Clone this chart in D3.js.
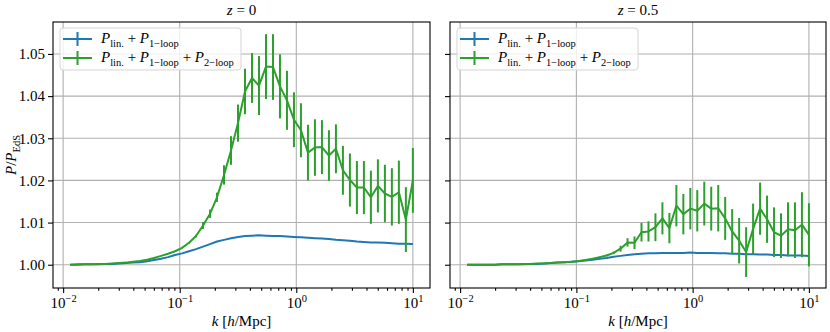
<!DOCTYPE html>
<html>
<head>
<meta charset="utf-8">
<script src="https://cdn.jsdelivr.net/npm/d3@7"></script>
<style>
  body { margin: 0; background: #fff; }
  svg { display: block; font-family: "Liberation Serif", "DejaVu Serif", serif; }
</style>
</head>
<body>
<svg id="chart" width="830" height="332"></svg>
<script>
// k grid shared by both panels [h/Mpc]
var kValues = [0.01148, 0.01318, 0.01514, 0.01738, 0.01995, 0.02291, 0.02630, 0.03020, 0.03467, 0.03981,
  0.04571, 0.05248, 0.06026, 0.06918, 0.07943, 0.09120, 0.1047, 0.1202, 0.1380, 0.1585,
  0.1820, 0.2089, 0.2399, 0.2754, 0.3162, 0.3631, 0.4169, 0.4786, 0.5495, 0.6310,
  0.7244, 0.8318, 0.9550, 1.096, 1.259, 1.445, 1.660, 1.905, 2.188, 2.512,
  2.884, 3.311, 3.802, 4.365, 5.012, 5.754, 6.607, 7.586, 8.710, 10.0];

// z = 0
var oneLoopZ0 = [1.0000, 1.0000, 1.0001, 1.0001, 1.0001, 1.0002, 1.0002, 1.0003, 1.0004, 1.0005,
  1.0006, 1.0008, 1.0011, 1.0014, 1.0018, 1.0023, 1.0027, 1.0032, 1.0037, 1.0043,
  1.0049, 1.0055, 1.0059, 1.0063, 1.0066, 1.0068, 1.0069, 1.0070, 1.0069, 1.0068,
  1.0068, 1.0067, 1.0066, 1.0065, 1.0064, 1.0063, 1.0062, 1.0061, 1.0059, 1.0058,
  1.0057, 1.0055, 1.0054, 1.0053, 1.0053, 1.0052, 1.0051, 1.0050, 1.0050, 1.0049];
var twoLoopZ0 = [1.0000, 1.0001, 1.0001, 1.0001, 1.0002, 1.0002, 1.0003, 1.0004, 1.0005, 1.0007,
  1.0009, 1.0012, 1.0016, 1.0021, 1.0026, 1.0032, 1.0040, 1.0052, 1.0068, 1.0093,
  1.0121, 1.0160, 1.0213, 1.0271, 1.0336, 1.0411, 1.0443, 1.0425, 1.0470, 1.0469,
  1.0423, 1.0390, 1.0344, 1.0319, 1.0266, 1.0278, 1.0279, 1.0259, 1.0275, 1.0224,
  1.0201, 1.0183, 1.0183, 1.0160, 1.0187, 1.0169, 1.0161, 1.0172, 1.0107, 1.0200];
var twoLoopErrZ0 = [0, 0, 0, 0, 0, 0, 0, 0, 0, 0,
  0, 0, 0, 0, 0, 0.0001, 0.0001, 0.0002, 0.0003, 0.0008,
  0.0010, 0.0011, 0.0023, 0.0034, 0.0044, 0.0054, 0.0059, 0.0070, 0.0077, 0.0078,
  0.0076, 0.0070, 0.0065, 0.0064, 0.0066, 0.0067, 0.0064, 0.0060, 0.0058, 0.0058,
  0.0063, 0.0063, 0.0063, 0.0063, 0.0063, 0.0068, 0.0068, 0.0075, 0.0077, 0.0077];

// z = 0.5
var oneLoopZ05 = [1.0000, 1.0000, 1.0000, 1.0000, 1.0000, 1.0001, 1.0001, 1.0001, 1.0001, 1.0002,
  1.0002, 1.0003, 1.0004, 1.0005, 1.0006, 1.0007, 1.0008, 1.0010, 1.0012, 1.0014,
  1.0016, 1.0019, 1.0021, 1.0023, 1.0025, 1.0026, 1.0027, 1.0027, 1.0028, 1.0028,
  1.0028, 1.0028, 1.0029, 1.0028, 1.0028, 1.0028, 1.0027, 1.0027, 1.0026, 1.0026,
  1.0025, 1.0025, 1.0024, 1.0024, 1.0023, 1.0023, 1.0022, 1.0022, 1.0022, 1.0021];
var twoLoopZ05 = [1.0000, 1.0000, 1.0000, 1.0000, 1.0000, 1.0001, 1.0001, 1.0001, 1.0002, 1.0002,
  1.0003, 1.0003, 1.0004, 1.0005, 1.0006, 1.0007, 1.0009, 1.0011, 1.0014, 1.0018,
  1.0022, 1.0028, 1.0038, 1.0053, 1.0052, 1.0077, 1.0079, 1.0089, 1.0110, 1.0087,
  1.0140, 1.0120, 1.0133, 1.0128, 1.0145, 1.0133, 1.0134, 1.0110, 1.0079, 1.0057,
  1.0030, 1.0085, 1.0133, 1.0108, 1.0077, 1.0069, 1.0084, 1.0082, 1.0095, 1.0071];
var twoLoopErrZ05 = [0, 0, 0, 0, 0, 0, 0, 0, 0, 0,
  0, 0, 0, 0, 0, 0, 0, 0.0001, 0.0001, 0.0001,
  0.0002, 0.0003, 0.0007, 0.0010, 0.0015, 0.0022, 0.0024, 0.0033, 0.0038, 0.0036,
  0.0049, 0.0048, 0.0049, 0.0049, 0.0052, 0.0052, 0.0055, 0.0051, 0.0053, 0.0054,
  0.0059, 0.0060, 0.0062, 0.0056, 0.0059, 0.0053, 0.0064, 0.0066, 0.0077, 0.0075];

var xTickValues = [0.01, 0.1, 1, 10];
var xTickExps = ["\u22122", "\u22121", "0", "1"];
var yTickValues = [1.00, 1.01, 1.02, 1.03, 1.04, 1.05];
var yTickLabels = ["1.00", "1.01", "1.02", "1.03", "1.04", "1.05"];
var panelTitles = ["0", "0.5"];

var BLUE = "#1f77b4", GREEN = "#2ca02c", GRID = "#b0b0b0";
var FS = 15;

var svg = d3.select("#chart");

// append a run of math-ish text: [string, kind] with kind i / r / sub / sup
function mathText(sel, parts, size) {
  var shift = 0;
  parts.forEach(function(p) {
    var t = sel.append("tspan").text(p[0]);
    var target = 0;
    if (p[1] == "i") t.attr("font-style", "italic");
    if (p[1] == "sub") { target = size * 0.28; t.attr("font-size", size * 0.7); }
    if (p[1] == "sup") { target = -size * 0.42; t.attr("font-size", size * 0.7); }
    if (target != shift) { t.attr("dy", target - shift); shift = target; }
  });
}

function drawPanel(left, right, title, oneLoop, twoLoop, twoErr, showYLabels) {
  var top = 22, bottom = 288;
  var x = d3.scaleLog().domain([Math.pow(10, -2.087), Math.pow(10, 1.147)]).range([left, right]);
  var y = d3.scaleLinear().domain([0.99448, 1.05758]).range([bottom, top]);

  var g = svg.append("g");

  // grid
  g.selectAll(".gx").data(xTickValues).enter().append("line")
    .attr("x1", function(d) { return x(d); }).attr("x2", function(d) { return x(d); })
    .attr("y1", top).attr("y2", bottom)
    .attr("stroke", GRID).attr("stroke-width", 1.1);
  g.selectAll(".gy").data(yTickValues).enter().append("line")
    .attr("x1", left).attr("x2", right)
    .attr("y1", function(d) { return y(d); }).attr("y2", function(d) { return y(d); })
    .attr("stroke", GRID).attr("stroke-width", 1.1);

  // curves
  var line = d3.line()
    .x(function(d) { return x(d[0]); })
    .y(function(d) { return y(d[1]); });

  g.append("path")
    .datum(d3.zip(kValues, oneLoop))
    .attr("d", line).attr("fill", "none")
    .attr("stroke", BLUE).attr("stroke-width", 2).attr("stroke-linejoin", "round");

  g.append("path")
    .datum(d3.zip(kValues, twoLoop))
    .attr("d", line).attr("fill", "none")
    .attr("stroke", GREEN).attr("stroke-width", 2).attr("stroke-linejoin", "round");

  g.selectAll(".err").data(d3.zip(kValues, twoLoop, twoErr)).enter().append("line")
    .attr("x1", function(d) { return x(d[0]); }).attr("x2", function(d) { return x(d[0]); })
    .attr("y1", function(d) { return y(d[1] - d[2]); })
    .attr("y2", function(d) { return y(d[1] + d[2]); })
    .attr("stroke", GREEN).attr("stroke-width", 2);

  // axes
  var minor = [];
  [0.001, 0.01, 0.1, 1, 10].forEach(function(dec) {
    for (var m = 2; m < 10; m++) minor.push(dec * m);
  });
  var xd = x.domain();
  minor = minor.filter(function(v) { return v >= xd[0] && v <= xd[1]; });

  var xAxis = g.append("g").attr("transform", "translate(0," + bottom + ")")
    .call(d3.axisBottom(x).tickValues(xTickValues).tickSize(5).tickFormat(""));
  g.append("g").attr("transform", "translate(0," + bottom + ")")
    .call(d3.axisBottom(x).tickValues(minor).tickSize(2.8).tickFormat(""));
  var yAxis = g.append("g").attr("transform", "translate(" + left + ",0)")
    .call(d3.axisLeft(y).tickValues(yTickValues).tickSize(5)
      .tickFormat(function(d, i) { return showYLabels ? yTickLabels[i] : ""; }));
  g.selectAll(".domain").remove();
  g.selectAll("g").attr("font-family", null).attr("font-size", null);
  g.selectAll(".tick line").attr("stroke", "#000").attr("stroke-width", 1.1);
  yAxis.selectAll("text").attr("font-size", FS).attr("fill", "#000").attr("x", -8);

  xAxis.selectAll(".tick").each(function(d, i) {
    var t = d3.select(this).append("text")
      .attr("y", 20).attr("text-anchor", "middle")
      .attr("font-size", FS).attr("fill", "#000");
    mathText(t, [["10", "r"], [xTickExps[i], "sup"]], FS);
  });

  // spines
  g.append("rect")
    .attr("x", left).attr("y", top)
    .attr("width", right - left).attr("height", bottom - top)
    .attr("fill", "none").attr("stroke", "#000").attr("stroke-width", 1.1);

  // title and x label
  var cx = (left + right) / 2;
  var tt = g.append("text").attr("x", cx).attr("y", 15)
    .attr("text-anchor", "middle").attr("font-size", FS);
  mathText(tt, [["z", "i"], [" = " + title, "r"]], FS);

  var xl = g.append("text").attr("x", cx).attr("y", 326)
    .attr("text-anchor", "middle").attr("font-size", FS);
  mathText(xl, [["k", "i"], [" [", "r"], ["h", "i"], ["/Mpc]", "r"]], FS);

  // legend
  var lx = left + 7, ly = 28;
  var lg = g.append("g");
  lg.append("rect")
    .attr("x", lx).attr("y", ly).attr("width", 181).attr("height", 42).attr("rx", 3)
    .attr("fill", "#fff").attr("fill-opacity", 0.8)
    .attr("stroke", "#d5d5d5").attr("stroke-width", 1);

  var entries = [
    { color: BLUE, parts: [["P", "i"], ["lin.", "sub"], [" + ", "r"], ["P", "i"], ["1\u2212loop", "sub"]] },
    { color: GREEN, parts: [["P", "i"], ["lin.", "sub"], [" + ", "r"], ["P", "i"], ["1\u2212loop", "sub"],
      [" + ", "r"], ["P", "i"], ["2\u2212loop", "sub"]] }
  ];
  entries.forEach(function(e, i) {
    var yy = ly + 11 + i * 19;
    lg.append("line").attr("x1", lx + 3).attr("x2", lx + 32).attr("y1", yy).attr("y2", yy)
      .attr("stroke", e.color).attr("stroke-width", 2);
    lg.append("line").attr("x1", lx + 17.5).attr("x2", lx + 17.5).attr("y1", yy - 7).attr("y2", yy + 7)
      .attr("stroke", e.color).attr("stroke-width", 2);
    var t = lg.append("text").attr("x", lx + 41).attr("y", yy + 4).attr("font-size", FS);
    mathText(t, e.parts, FS);
  });
}

drawPanel(53, 430, panelTitles[0], oneLoopZ0, twoLoopZ0, twoLoopErrZ0, true);
drawPanel(450, 826, panelTitles[1], oneLoopZ05, twoLoopZ05, twoLoopErrZ05, false);

// y label
var yl = svg.append("text")
  .attr("transform", "translate(16,155) rotate(-90)")
  .attr("text-anchor", "middle").attr("font-size", FS);
mathText(yl, [["P", "i"], ["/", "r"], ["P", "i"], ["EdS", "sub"]], FS);
</script>
</body>
</html>
